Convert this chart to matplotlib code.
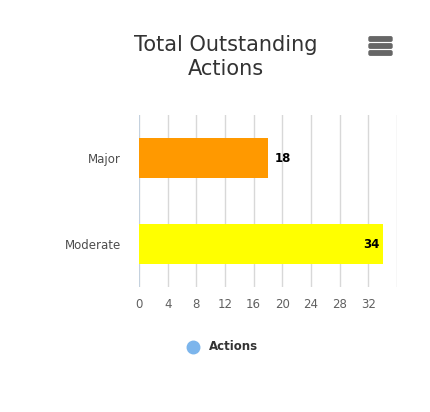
import matplotlib.pyplot as plt
from matplotlib.patches import FancyBboxPatch
from matplotlib.lines import Line2D

# chart data
categories = ['Major', 'Moderate']
values = [18, 34]
bar_colors = ['#ff9900', '#ffff00']
x_ticks = [0, 4, 8, 12, 16, 20, 24, 28, 32]
series_name = 'Actions'

fig = plt.figure(figsize=(4.31, 4.12), dpi=100)
fig.patch.set_facecolor('white')

ax = fig.add_axes([139 / 431, 1 - 287 / 412, 258 / 431, 172 / 412])
ypos = list(range(len(categories)))
ax.barh(ypos, values, height=0.47, color=bar_colors, zorder=3)

ax.set_xlim(0, 36)
ax.set_ylim(len(categories) - 0.5, -0.5)

# vertical grid lines every 4
for g in range(0, 37, 4):
    ax.axvline(g, color='#d8d8d8', lw=1, zorder=1)
ax.axvline(0, color='#c0d0e0', lw=1.2, zorder=2)

ax.set_xticks(x_ticks)
ax.set_xticklabels([str(t) for t in x_ticks])
ax.set_yticks(ypos)
ax.set_yticklabels(categories)
ax.tick_params(axis='x', length=0, pad=8, labelsize=8.5, labelcolor='#606060')
ax.tick_params(axis='y', length=0, pad=13, labelsize=8.5, labelcolor='#4d4d4d')
for s in ax.spines.values():
    s.set_visible(False)

# data labels
for y, v in zip(ypos, values):
    if v > 30:
        ax.text(v - 0.5, y, str(v), ha='right', va='center', fontsize=8.5,
                fontweight='bold', color='#000000', zorder=4)
    else:
        ax.text(v + 1.0, y, str(v), ha='left', va='center', fontsize=8.5,
                fontweight='bold', color='#000000', zorder=4)

# title
fig.text(226 / 431, 1 - 57 / 412, 'Total Outstanding\nActions', ha='center', va='center',
         fontsize=15, color='#333333', linespacing=1.2)

# export menu icon
for yy in [39, 46, 53]:
    fig.patches.append(FancyBboxPatch((369 / 431, 1 - (yy + 2.2) / 412), 23 / 431, 4.4 / 412,
                                      boxstyle='round,pad=0,rounding_size=0.003',
                                      transform=fig.transFigure, color='#666666'))

# legend
fig.add_artist(Line2D([193 / 431], [1 - 347 / 412], marker='o', markersize=9,
                      color='#7cb5ec', transform=fig.transFigure))
fig.text(209 / 431, 1 - 347 / 412, series_name, ha='left', va='center', fontsize=8.5,
         fontweight='bold', color='#333333')

plt.savefig('out.png', dpi=100)
plt.close()
